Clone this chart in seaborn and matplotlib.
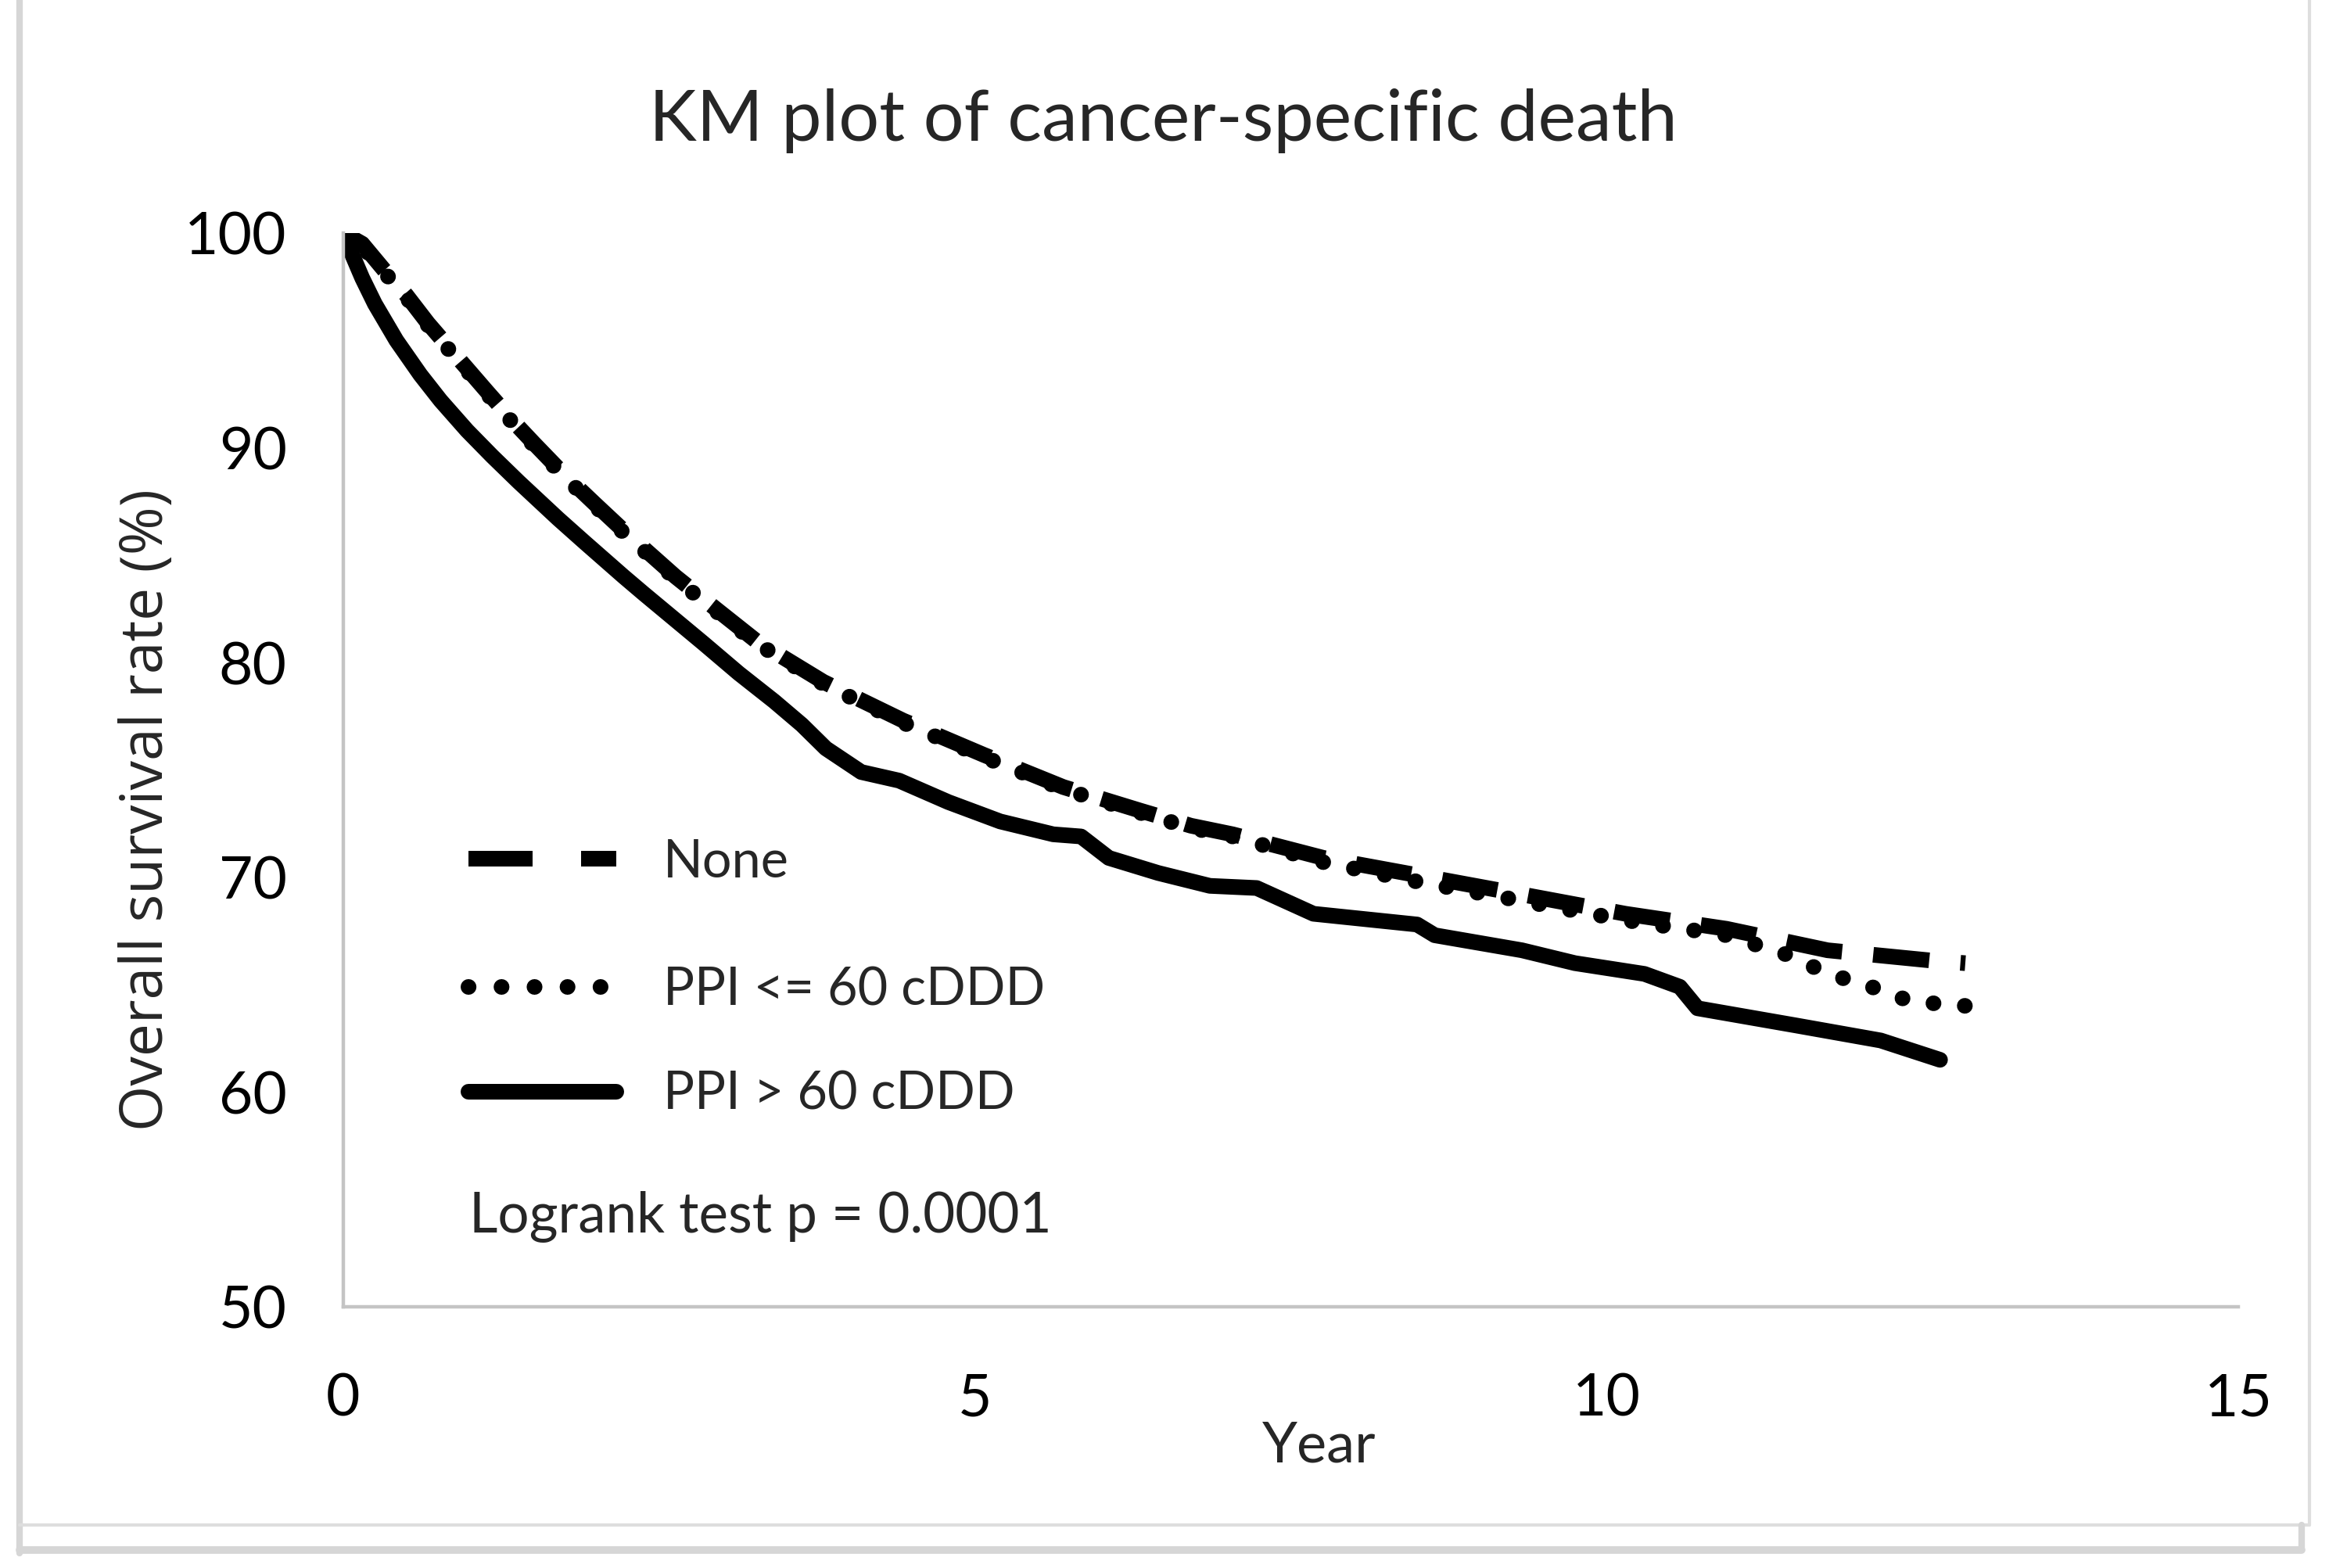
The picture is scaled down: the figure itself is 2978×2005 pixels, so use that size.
import numpy as np
import pandas as pd
import matplotlib
matplotlib.use('Agg')
import matplotlib.pyplot as plt
from matplotlib.lines import Line2D
import seaborn as sns

# ── Data ─────────────────────────────────────────────────────────────────────
groups = ['None', 'PPI <= 60 cDDD', 'PPI > 60 cDDD']

t_none = [0, 0.15, 0.32, 0.50, 0.67, 0.89, 1.14, 1.35, 1.51, 1.74, 1.99, 2.19,
          2.63, 2.97, 3.27, 3.80, 4.43, 5.07, 5.70, 6.31, 6.71, 7.04, 7.76,
          8.50, 9.33, 10.15, 10.95, 11.75, 12.61, 12.84]
s_none = [100, 99.5, 98.3, 97.1, 95.8, 94.3, 92.6, 91.2, 90.2, 88.8, 87.4, 86.3,
          84.0, 82.4, 81.0, 79.1, 77.3, 75.7, 74.2, 73.1, 72.4, 72.0, 70.9,
          70.1, 69.2, 68.3, 67.6, 66.6, 66.1, 66.0]

t_low = [0, 0.15, 0.32, 0.50, 0.67, 0.89, 1.14, 1.35, 1.51, 1.74, 1.99, 2.19,
         2.63, 2.97, 3.27, 3.80, 4.43, 5.07, 5.70, 6.31, 6.71, 7.04, 7.76,
         8.50, 9.33, 10.15, 10.95, 11.48, 11.68, 11.92, 12.15, 12.37, 12.63, 12.87]
s_low = [100, 99.4, 98.2, 97.0, 95.7, 94.2, 92.5, 91.1, 90.1, 88.7, 87.3, 86.2,
         83.9, 82.3, 80.9, 79.0, 77.2, 75.6, 74.1, 73.0, 72.3, 71.9, 70.7,
         69.8, 68.9, 68.0, 67.3, 66.3, 65.7, 65.2, 64.8, 64.3, 64.1, 64.0]

t_high = [0, 0.07, 0.15, 0.25, 0.42, 0.61, 0.77, 0.98, 1.18, 1.39, 1.70, 1.91,
          2.22, 2.38, 2.85, 3.13, 3.41, 3.63, 3.82, 4.10, 4.40, 4.79, 5.20,
          5.62, 5.84, 6.06, 6.45, 6.86, 7.23, 7.68, 8.50, 8.64, 9.33, 9.75,
          10.30, 10.58, 10.72, 11.50, 12.17, 12.64]
s_high = [100, 99.0, 97.9, 96.7, 95.0, 93.4, 92.2, 90.8, 89.6, 88.4, 86.7, 85.6,
          84.0, 83.2, 80.9, 79.5, 78.2, 77.1, 76.0, 74.9, 74.5, 73.5, 72.6,
          72.0, 71.9, 70.9, 70.2, 69.6, 69.5, 68.3, 67.8, 67.3, 66.6, 66.0,
          65.5, 64.9, 63.9, 63.1, 62.4, 61.5]

x_ticks = [0, 5, 10, 15]
y_ticks = [50, 60, 70, 80, 90, 100]
pvalue_text = 'Logrank test p = 0.0001'

df = pd.concat([
    pd.DataFrame({'year': t_none, 'surv': s_none, 'group': groups[0]}),
    pd.DataFrame({'year': t_low, 'surv': s_low, 'group': groups[1]}),
    pd.DataFrame({'year': t_high, 'surv': s_high, 'group': groups[2]}),
], ignore_index=True)

# ── Style ────────────────────────────────────────────────────────────────────
sns.set_style('white')
plt.rcParams['font.family'] = ['Lato', 'DejaVu Sans']

fig = plt.figure(figsize=(14.89, 10.025), dpi=200)
ax = fig.add_axes([0.1474, 0.1666, 0.8136, 0.6848])

sns.lineplot(data=df, x='year', y='surv', hue='group', style='group',
             hue_order=groups, style_order=groups,
             palette=['black'] * 3,
             dashes={groups[0]: (3.6, 2.0), groups[1]: (0.01, 2.0), groups[2]: ''},
             estimator=None, sort=True, linewidth=7.2, legend=False, ax=ax)

for ln in ax.lines:
    ln.set_dash_capstyle('round')
    ln.set_solid_capstyle('round')
    ln.set_solid_joinstyle('round')
ax.lines[0].set_dash_capstyle('butt')

ax.set_xlim(0, 15)
ax.set_ylim(50, 100)
ax.set_xticks(x_ticks)
ax.set_yticks(y_ticks)
ax.tick_params(axis='both', length=0, labelsize=27, colors='black')
ax.tick_params(axis='x', pad=30)
ax.tick_params(axis='y', pad=26)
for side in ['top', 'right']:
    ax.spines[side].set_visible(False)
for side in ['left', 'bottom']:
    ax.spines[side].set_color('#c4c4c4')
    ax.spines[side].set_linewidth(1.6)

ax.set_xlabel('')
ax.set_ylabel('Overall survival rate (%)', fontsize=27, family=['Open Sans', 'DejaVu Sans'])
ax.yaxis.set_label_coords(-0.088, 0.463)
ax.text(0.515, -0.130, 'Year', transform=ax.transAxes, ha='center', va='center', fontsize=26)

fig.text(0.4994, 0.923, 'KM plot of cancer-specific death', ha='center', va='center', fontsize=33)

# ── Legend (two blocks, spacing as in the reference) ─────────────────────────
leg_kw = dict(loc='center left', frameon=False, fontsize=24, handlelength=2.83,
              handletextpad=0.9, borderpad=0, borderaxespad=0)
leg1 = ax.legend(handles=[ax.lines[0]], labels=groups[:1],
                 bbox_to_anchor=(0.066, 0.414), **leg_kw)
ax.add_artist(leg1)
leg2 = ax.legend(handles=list(ax.lines[1:3]), labels=groups[1:],
                 bbox_to_anchor=(0.066, 0.246), labelspacing=1.07, **leg_kw)
for hd in leg1.legend_handles + leg2.legend_handles:
    hd.set_linewidth(7.2)
leg1.legend_handles[0].set_dashes((4.1, 3.1))
leg2.legend_handles[0].set_dashes((0.01, 2.1))

ax.text(0.0664, 0.0837, pvalue_text, transform=ax.transAxes, ha='left', va='center', fontsize=25.5)

# ── Outer frame (screenshot border) ──────────────────────────────────────────
frame_col = '#dedede'
fig.add_artist(Line2D([0.0084, 0.0084], [0.0095, 1.0], transform=fig.transFigure, color='#d6d6d6', lw=3))
fig.add_artist(Line2D([0.0084, 0.9916], [0.0274, 0.0274], transform=fig.transFigure, color=frame_col, lw=1.5))
fig.add_artist(Line2D([0.9916, 0.9916], [0.0274, 1.0], transform=fig.transFigure, color=frame_col, lw=1.5))
fig.add_artist(Line2D([0.0084, 0.9883], [0.0115, 0.0115], transform=fig.transFigure, color='#d6d6d6', lw=3.5))
fig.add_artist(Line2D([0.9883, 0.9883], [0.0115, 0.0274], transform=fig.transFigure, color='#d6d6d6', lw=3))

fig.savefig('out.png', dpi=200, facecolor='white')
